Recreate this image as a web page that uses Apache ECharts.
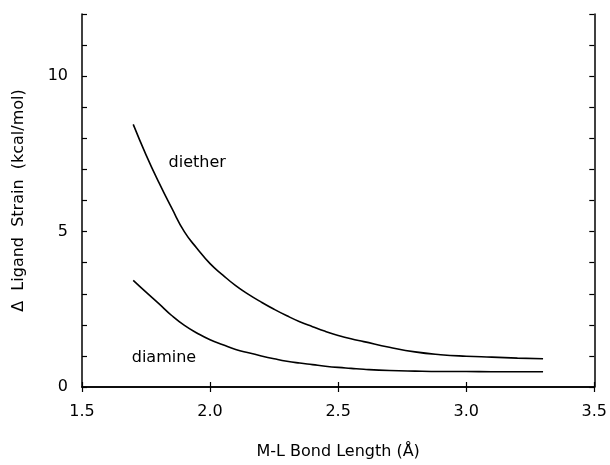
<!DOCTYPE html>
<html>
<head>
<meta charset="utf-8">
<script src="https://cdn.jsdelivr.net/npm/echarts@6/dist/echarts.min.js"></script>
<style>
html,body{margin:0;padding:0;background:#fff;}
#chart{width:610px;height:465px;}
</style>
</head>
<body>
<div id="chart"></div>
<script>
// bond length (Å)
var bondLength = [1.70,1.75,1.80,1.85,1.90,1.95,2.00,2.05,2.10,2.15,2.20,2.25,2.30,2.35,2.40,2.45,2.50,2.55,2.60,2.70,2.80,2.90,3.00,3.10,3.20,3.30];
// strain values (kcal/mol)
var dietherStrain = [8.45,7.47,6.58,5.76,4.99,4.45,3.97,3.60,3.26,2.98,2.73,2.50,2.29,2.10,1.94,1.79,1.66,1.55,1.46,1.28,1.13,1.04,0.99,0.96,0.93,0.91];
var diamineStrain = [3.43,3.05,2.68,2.30,1.98,1.73,1.52,1.36,1.21,1.10,1.00,0.91,0.83,0.77,0.72,0.67,0.63,0.60,0.57,0.53,0.51,0.50,0.50,0.49,0.49,0.49];
// curve labels: [text, x, y]
var curveLabels = [['diether',1.95,7.2],['diamine',1.82,0.93]];

var FONT = 'DejaVu Sans';

function pairs(xs, ys){
	var out = [];
	for (var i = 0; i < xs.length; i++) out.push([xs[i], ys[i]]);
	return out;
}

var myChart = echarts.init(document.getElementById('chart'));
var axisLine = {show:true, lineStyle:{color:'#000', width:1.5}};
var tickIn = {show:true, inside:true, length:5, lineStyle:{color:'#000', width:1.2}};

var option = {
	backgroundColor:'#fff',
	animation:false,
	grid:{left:82, right:13, top:14, bottom:72},
	xAxis:[{
		type:'value', min:1.5, max:3.5, interval:0.5,
		axisLine:axisLine, axisTick:tickIn, splitLine:{show:false},
		axisLabel:{color:'#000', fontFamily:FONT, fontSize:16, margin:17,
			formatter:function(v){ return v.toFixed(1); }},
		name:'M-L Bond Length (Å)', nameLocation:'middle', nameGap:57,
		nameTextStyle:{color:'#000', fontFamily:FONT, fontSize:16}
	},{
		type:'value', position:'top', min:1.5, max:3.5, interval:0.5,
		axisLine:axisLine, axisTick:tickIn, axisLabel:{show:false}, splitLine:{show:false}
	}],
	yAxis:[{
		type:'value', min:0, max:12, interval:1,
		axisLine:axisLine, axisTick:tickIn, splitLine:{show:false},
		axisLabel:{color:'#000', fontFamily:FONT, fontSize:16, margin:14,
			formatter:function(v){ return v % 5 === 0 ? String(v) : ''; }},
		name:'Δ  Ligand  Strain  (kcal/mol)', nameLocation:'middle', nameGap:55,
		nameTextStyle:{color:'#000', fontFamily:FONT, fontSize:16}
	},{
		type:'value', position:'right', min:0, max:12, interval:1,
		axisLine:axisLine, axisTick:tickIn, axisLabel:{show:false}, splitLine:{show:false}
	}],
	series:[{
		name:'diether', type:'line', smooth:0.5, showSymbol:false,
		data:pairs(bondLength, dietherStrain),
		lineStyle:{color:'#000', width:1.6}
	},{
		name:'diamine', type:'line', smooth:0.5, showSymbol:false,
		data:pairs(bondLength, diamineStrain),
		lineStyle:{color:'#000', width:1.6}
	},{
		type:'scatter', symbolSize:1,
		itemStyle:{color:'#fff', opacity:0},
		data:curveLabels.map(function(d){ return {value:[d[1], d[2]], name:d[0]}; }),
		label:{show:true, position:'inside', formatter:'{b}', color:'#000', opacity:1,
			textBorderWidth:0, fontFamily:FONT, fontSize:16}
	}]
};
myChart.setOption(option);
</script>
</body>
</html>
